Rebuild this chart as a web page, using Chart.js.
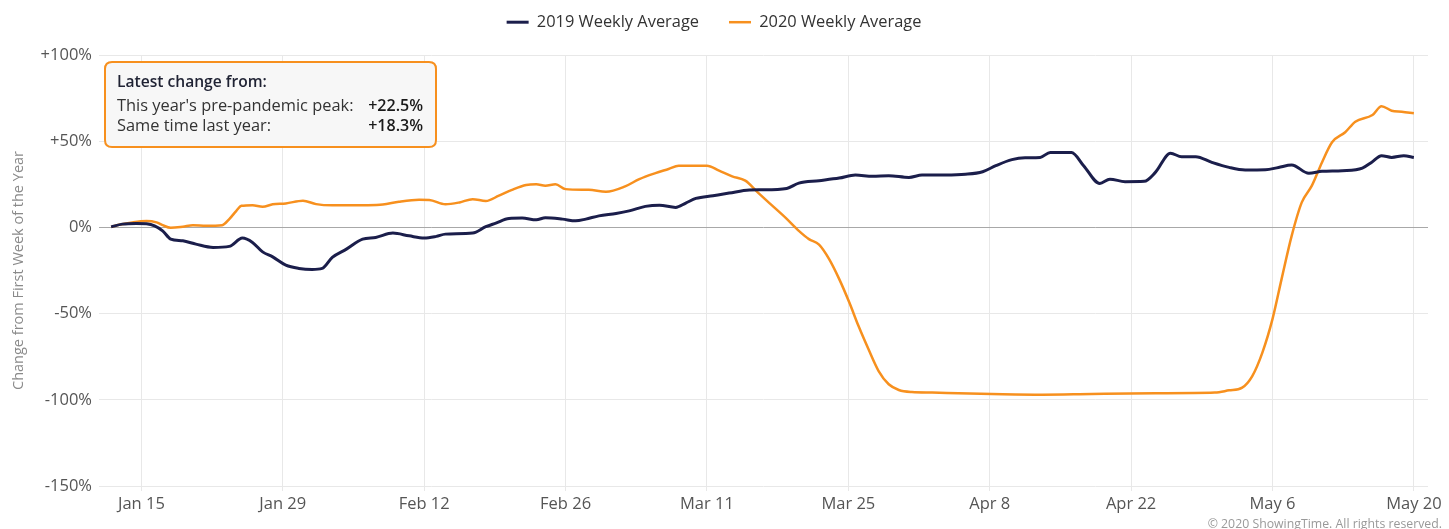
<!DOCTYPE html>
<html>
<head>
<meta charset="utf-8">
<title>2019 vs 2020 Weekly Average</title>
<script src="https://cdn.jsdelivr.net/npm/chart.js@4.4.1/dist/chart.umd.min.js"></script>
<style>
  html, body { margin: 0; padding: 0; background: #fff; }
</style>
</head>
<body>
<canvas id="chart_showings" width="1449" height="529"></canvas>
<script>
// x values are days counted from Jan 12 (2020 calendar)
var tickDays = [3, 17, 31, 45, 59, 73, 87, 101, 115, 129]
var tickLabels = ["Jan 15", "Jan 29", "Feb 12", "Feb 26", "Mar 11", "Mar 25", "Apr 8", "Apr 22", "May 6", "May 20"]
var yTicks = [100, 50, 0, -50, -100, -150]

// 2019 weekly average, % change from first week of the year
var days2019 = [0, 1.1, 2.5, 3.5, 4.3, 5.1, 5.9, 7.1, 8.4, 10.1, 11.7, 13, 14, 15, 16, 17.3, 18.6, 19.9, 20.9, 21.9,
    23.3, 24.9, 26.2, 27.9, 29.5, 31, 32.2, 33.1, 35.8, 37.1, 38.1, 39.4, 40.7, 42.1, 43, 44.7, 46, 47, 48.3, 50,
    51.3, 52.9, 54.3, 55.9, 56.9, 57.9, 59.6, 61.2, 63.2, 64.5, 66.9, 68.1, 70.1, 72.1, 73.7, 75.4, 77, 79, 80.3, 82.6,
    84.6, 86.3, 87.6, 89.2, 90.5, 92, 93, 95.1, 96.3, 97.9, 98.9, 100.4, 102.3, 103.4, 104.9, 106, 107.4, 109, 110.7, 112.3,
    114.3, 115.6, 116.9, 118.6, 119.9, 121.9, 123.9, 124.8, 125.8, 126.8, 128, 129]
var avg2019 = [0.3, 1.9, 2.3, 2.1, 0.9, -2.0, -6.8, -7.8, -9.7, -11.6, -11.0, -6.2, -8.7, -14.2, -17.1, -21.9, -23.8, -24.4, -23.8, -17.4,
    -12.6, -6.8, -5.8, -3.3, -4.9, -6.2, -5.2, -3.9, -3.3, 0.4, 2.5, 5.2, 5.4, 4.4, 5.6, 4.8, 3.8, 4.8, 6.7, 8.1,
    9.6, 12.2, 12.9, 11.6, 14.1, 16.8, 18.4, 19.9, 21.7, 21.8, 22.6, 25.7, 27.1, 28.6, 30.4, 29.6, 30, 29, 30.4, 30.4,
    30.8, 32.3, 35.8, 39.3, 40.4, 40.6, 43.5, 43.5, 35.8, 25.5, 28, 26.5, 26.7, 31.9, 43, 41, 41, 37.7, 34.8, 33.3,
    33.4, 34.8, 36.2, 31.4, 32.5, 32.9, 34.4, 37.7, 41.6, 40.6, 41.6, 40.6]

// 2020 weekly average
var days2020 = [0, 0.8, 2.1, 3.5, 4.5, 5.1, 5.9, 7.1, 8.1, 9.4, 11, 11.7, 12.4, 12.9, 14, 15, 16, 17.3, 19, 20.3,
    21.9, 25.2, 26.9, 28.5, 30.5, 31.5, 33.1, 34.5, 35.8, 37.1, 38.4, 39.7, 41.1, 42.1, 43, 44, 45, 47.3, 49, 50.9,
    52.3, 53.9, 55.2, 56.2, 57.9, 59, 60.2, 61.5, 62.8, 64, 65.3, 66.8, 68.1, 69.1, 70.1, 71.1, 72.1, 73.1, 74, 75,
    76, 77, 78, 79.3, 81.3, 83.9, 87.2, 92.2, 97.1, 103.4, 109.3, 110.7, 112, 113, 114, 115, 115.9, 116.9, 117.9, 118.9,
    119.9, 120.9, 122.2, 123.2, 124.9, 125.8, 126.8, 127.8, 129]
var avg2020 = [0.3, 1.5, 2.9, 3.7, 2.9, 1.3, -0.2, 0.4, 1.2, 0.9, 1.3, 4.8, 9.6, 12.5, 12.9, 12.0, 13.4, 13.9, 15.5, 13.5,
    12.8, 12.9, 13.3, 14.9, 16.0, 15.9, 13.4, 14.5, 16.4, 15.3, 18.4, 21.8, 24.6, 25, 24.2, 25, 22.2, 21.8, 20.7, 23.8,
    28, 31.5, 33.9, 35.8, 35.8, 35.8, 32.9, 29.6, 27.1, 20.5, 13.5, 5.5, -2.0, -6.8, -10, -18.4, -30, -43.6, -57.1, -70.7,
    -83.3, -91, -94.3, -95.5, -95.8, -96.2, -96.6, -97, -96.6, -96.2, -95.8, -94.5, -92.9, -86.2, -72.6, -53.2, -30, -4.9, 14.5, 24.2,
    37.7, 49.4, 55.2, 61.3, 65.2, 70.3, 67.7, 67.1, 66.2]

// info box texts
var boxTitle = "Latest change from:"
var boxRows = ["This year's pre-pandemic peak:", "Same time last year:"]
var boxValues = ["+22.5%", "+18.3%"]
var footerText = "\u00a9 2020 ShowingTime. All rights reserved."

var fontFam = "'Open Sans', sans-serif"

function toPoints(days, vals) {
    return days.map(function (d, i) { return { x: d, y: vals[i] } })
}

// rounded box helper
function roundBox(ctx, x, y, w, h, r) {
    ctx.beginPath()
    ctx.moveTo(x + r, y)
    ctx.lineTo(x + w - r, y)
    ctx.quadraticCurveTo(x + w, y, x + w, y + r)
    ctx.lineTo(x + w, y + h - r)
    ctx.quadraticCurveTo(x + w, y + h, x + w - r, y + h)
    ctx.lineTo(x + r, y + h)
    ctx.quadraticCurveTo(x, y + h, x, y + h - r)
    ctx.lineTo(x, y + r)
    ctx.quadraticCurveTo(x, y, x + r, y)
    ctx.closePath()
}

// draws the "latest change" box and the copyright line
var extrasPlugin = {
    id: 'extras',
    beforeInit: function (chart) {
        var fit = chart.legend.fit
        chart.legend.fit = function () {
            fit.bind(chart.legend)()
            this.height = 71
        }
    },
    afterDraw: function (chart) {
        var ctx = chart.ctx
        var a = chart.chartArea
        var bx = a.left + 6, by = a.top + 7, bw = 331, bh = 85
        ctx.save()
        roundBox(ctx, bx, by, bw, bh, 7)
        ctx.fillStyle = '#f7f7f7'
        ctx.fill()
        ctx.lineWidth = 2
        ctx.strokeStyle = '#f7901e'
        ctx.stroke()

        ctx.textBaseline = 'middle'
        ctx.textAlign = 'left'
        ctx.fillStyle = '#1f2233'
        ctx.font = '600 15.6px ' + fontFam
        ctx.fillText(boxTitle, bx + 12, by + 21)
        ctx.font = '16.4px ' + fontFam
        ctx.fillStyle = '#333'
        ctx.fillText(boxRows[0], bx + 12, by + 44)
        ctx.fillText(boxRows[1], bx + 12, by + 64)
        ctx.textAlign = 'right'
        ctx.font = '600 16px ' + fontFam
        ctx.fillStyle = '#1a1a1a'
        ctx.fillText(boxValues[0], bx + bw - 13, by + 44)
        ctx.fillText(boxValues[1], bx + bw - 13, by + 64)

        ctx.font = '12.3px ' + fontFam
        ctx.fillStyle = '#999'
        ctx.textBaseline = 'alphabetic'
        ctx.fillText(footerText, 1442, 528)
        ctx.restore()
    }
}

var ctx = document.getElementById('chart_showings').getContext('2d')
var myChart = new Chart(ctx, {
    type: 'line',
    data: {
        datasets: [{
            label: '2019 Weekly Average',
            data: toPoints(days2019, avg2019),
            borderColor: '#1b1e4b',
            backgroundColor: '#1b1e4b',
            borderWidth: 3,
            pointRadius: 0,
            cubicInterpolationMode: 'monotone',
            fill: false
        }, {
            label: '2020 Weekly Average',
            data: toPoints(days2020, avg2020),
            borderColor: '#f7901e',
            backgroundColor: '#f7901e',
            borderWidth: 2.5,
            pointRadius: 0,
            cubicInterpolationMode: 'monotone',
            fill: false
        }]
    },
    options: {
        responsive: false,
        animation: false,
        devicePixelRatio: 1,
        layout: { padding: { top: -16, right: 21, bottom: 0, left: 0 } },
        plugins: {
            legend: {
                position: 'top',
                labels: {
                    usePointStyle: true,
                    pointStyle: 'line',
                    pointStyleWidth: 22,
                    padding: 30,
                    color: '#333',
                    font: { family: fontFam, size: 16.4 }
                }
            },
            tooltip: { enabled: false }
        },
        scales: {
            x: {
                type: 'linear',
                min: -1.2,
                max: 130.4,
                afterBuildTicks: function (s) {
                    s.ticks = tickDays.map(function (v) { return { value: v } })
                },
                afterFit: function (s) { s.height = 43 },
                ticks: {
                    autoSkip: false,
                    maxRotation: 0,
                    padding: 3,
                    color: '#555',
                    font: { family: fontFam, size: 16.5 },
                    callback: function (v) { return tickLabels[tickDays.indexOf(v)] }
                },
                grid: { color: '#e8e8e8', tickLength: 5 },
                border: { display: false }
            },
            y: {
                min: -150,
                max: 100,
                afterBuildTicks: function (s) {
                    s.ticks = yTicks.map(function (v) { return { value: v } })
                },
                afterFit: function (s) { s.width = 99 },
                ticks: {
                    padding: 7,
                    color: '#555',
                    font: { family: fontFam, size: 16.5 },
                    callback: function (v) { return (v > 0 ? '+' : '') + v + '%' }
                },
                grid: {
                    drawTicks: false,
                    color: function (c) { return c.tick && c.tick.value === 0 ? '#a8a8a8' : '#e8e8e8' }
                },
                border: { display: false },
                title: {
                    display: true,
                    text: 'Change from First Week of the Year',
                    color: '#8a8a8a',
                    font: { family: fontFam, size: 14.5 },
                    padding: { top: 10, bottom: 0 }
                }
            }
        }
    },
    plugins: [extrasPlugin]
})
</script>
</body>
</html>
